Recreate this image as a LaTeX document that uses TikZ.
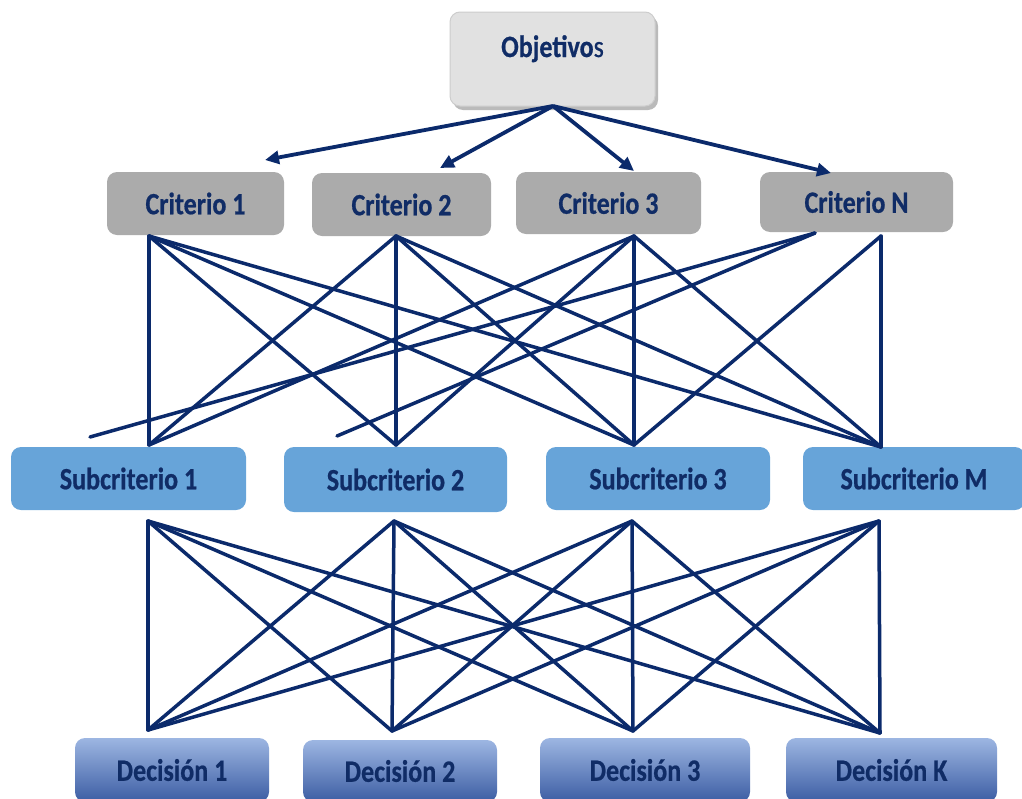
\documentclass[tikz,border=0pt]{standalone}
\usepackage{fontspec}
\newfontfamily\lblfont[FakeStretch=0.84,FakeBold=0.6]{Carlito}
\usetikzlibrary{arrows.meta,shadows}
\definecolor{navy}{HTML}{0B2A6B}
\definecolor{txt}{HTML}{102C66}
\definecolor{objfill}{HTML}{E1E1E1}
\definecolor{objdraw}{HTML}{CDCDCD}
\definecolor{crit}{HTML}{ABABAB}
\definecolor{sub}{HTML}{67A4D9}
\definecolor{dtop}{HTML}{9DB6E2}
\definecolor{dmid}{HTML}{5A82CC}
\definecolor{dbot}{HTML}{3C5DA3}
\tikzset{
  x=1pt,y=1pt,
  box/.style={rounded corners=10pt, inner sep=0pt, text=txt,
    font=\lblfont\fontsize{31}{34}\selectfont\bfseries},
  objbox/.style={box, fill=objfill, draw=objdraw, line width=1pt,
    drop shadow={shadow xshift=3pt, shadow yshift=-4pt, fill=black!45, opacity=0.6}},
  critbox/.style={box, fill=crit},
  subbox/.style={box, fill=sub},
  decbox/.style={box, top color=dtop, middle color=dmid, bottom color=dbot},
  link/.style={draw=navy, line width=3.5pt, line cap=round},
  arr/.style={draw=navy, line width=3.8pt, -{Triangle[length=14pt,width=13pt]}},
}
\begin{document}
\begin{tikzpicture}
\useasboundingbox (0,0) rectangle (1022,-798);
% boxes
\node[objbox, minimum width=205, minimum height=94] (obj) at (552.5,-59) {\raisebox{2pt}[0pt][0pt]{Objetivo{\mdseries s}}};
\node[critbox, minimum width=177, minimum height=63] (c1) at (195.5,-203.5) {Criterio 1};
\node[critbox, minimum width=179, minimum height=63] (c2) at (401.5,-204.5) {Criterio 2};
\node[critbox, minimum width=185, minimum height=62] (c3) at (608.5,-203) {Criterio 3};
\node[critbox, minimum width=193, minimum height=60] (cN) at (856.5,-202) {Criterio N};
\node[subbox, minimum width=235, minimum height=63] (s1) at (128.5,-478.5) {Subcriterio 1};
\node[subbox, minimum width=223, minimum height=65] (s2) at (395.5,-479.5) {Subcriterio 2};
\node[subbox, minimum width=224, minimum height=63] (s3) at (658,-478.5) {Subcriterio 3};
\node[subbox, minimum width=222, minimum height=63] (sM) at (914,-478.5) {Subcriterio M};
\node[decbox, minimum width=194, minimum height=64] (d1) at (172,-770) {Decisión 1};
\node[decbox, minimum width=194, minimum height=62] (d2) at (400,-771) {Decisión 2};
\node[decbox, minimum width=210, minimum height=64] (d3) at (645,-770) {Decisión 3};
\node[decbox, minimum width=211, minimum height=64] (dK) at (891.5,-770) {Decisión K};
% connector points
\coordinate (ob) at (553,-106);
\coordinate (a1) at (265,-160);
\coordinate (a2) at (440,-168);
\coordinate (a3) at (634,-171);
\coordinate (aN) at (831,-173);
\coordinate (c1b) at (149,-236);
\coordinate (c2b) at (396,-236);
\coordinate (c3b) at (634,-236);
\coordinate (cNl) at (815,-233);
\coordinate (cNr) at (881,-236);
\coordinate (s1t) at (149,-445);
\coordinate (s2t) at (396,-445);
\coordinate (s3t) at (634,-445);
\coordinate (sMt) at (881,-447);
\coordinate (f1) at (90,-437);
\coordinate (f2) at (337,-436);
\coordinate (s1b) at (148,-521);
\coordinate (s2b) at (394,-521);
\coordinate (s3b) at (632,-521);
\coordinate (sMb) at (879,-521);
\coordinate (d1t) at (148,-730);
\coordinate (d2t) at (392,-731);
\coordinate (d3t) at (633,-731);
\coordinate (dKt) at (880,-733);
% arrows
\foreach \t in {a1,a2,a3,aN} \draw[arr] (ob) -- (\t);
% criteria to subcriteria
\foreach \c in {c1b,c2b,c3b}
  \foreach \s in {s1t,s2t,s3t,sMt}
    \draw[link] (\c) -- (\s);
\draw[link] (cNl) -- (f1);
\draw[link] (cNl) -- (f2);
\draw[link] (cNr) -- (s3t);
\draw[link] (cNr) -- (sMt);
% subcriteria to decisions
\foreach \s in {s1b,s2b,s3b,sMb}
  \foreach \d in {d1t,d2t,d3t,dKt}
    \draw[link] (\s) -- (\d);
\end{tikzpicture}
\end{document}
